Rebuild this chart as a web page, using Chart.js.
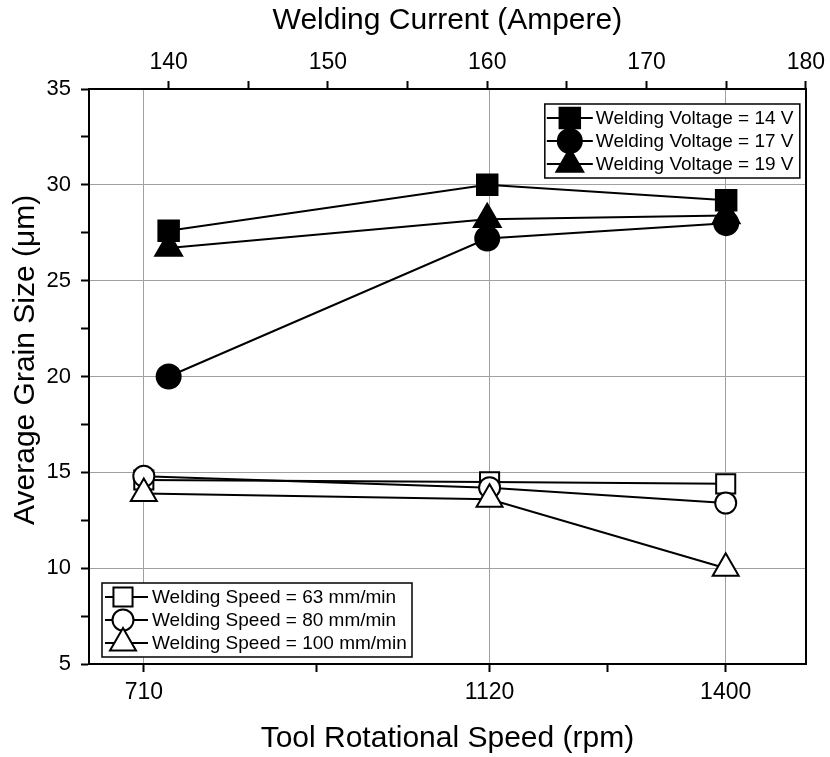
<!DOCTYPE html>
<html>
<head>
<meta charset="utf-8">
<script src="https://cdn.jsdelivr.net/npm/chart.js@4.4.0/dist/chart.umd.min.js"></script>
<style>
  html, body { margin: 0; padding: 0; background: #fff; }
  #wrap { width: 830px; height: 757px; }
</style>
</head>
<body>
<div id="wrap"><canvas id="grain-chart" width="830" height="757"></canvas></div>
<script>
// Bottom axis: tool rotational speed (rpm)
const rpm = [710, 1120, 1400];
const rpmTicks = [710, 915, 1120, 1260, 1400];
// Top axis: welding current (A)
const current = [140, 160, 175];

// Open markers, plotted against rpm
const speedLabels = ['Welding Speed = 63 mm/min', 'Welding Speed = 80 mm/min', 'Welding Speed = 100 mm/min'];
const speed63 = [14.6, 14.5, 14.4];
const speed80 = [14.8, 14.2, 13.4];
const speed100 = [13.9, 13.6, 10.0];

// Filled markers, plotted against welding current
const voltageLabels = ['Welding Voltage = 14 V', 'Welding Voltage = 17 V', 'Welding Voltage = 19 V'];
const volt14 = [27.6, 30.0, 29.2];
const volt17 = [20.0, 27.2, 28.0];
const volt19 = [26.7, 28.2, 28.4];

const FONT = "'Liberation Sans', Arial, sans-serif";
const GRID = '#a0a0a0';

const toPoints = (xs, ys) => xs.map((x, i) => ({ x: x, y: ys[i] }));

function series(label, xs, ys, style, radius, filled, axis, order) {
    return {
        label: label,
        data: toPoints(xs, ys),
        xAxisID: axis,
        yAxisID: 'y',
        order: order,
        borderColor: '#000',
        borderWidth: 2,
        backgroundColor: filled ? '#000' : '#fff',
        pointStyle: style,
        pointRadius: radius,
        pointHoverRadius: radius,
        pointBorderWidth: 2,
        pointBorderColor: '#000',
        pointBackgroundColor: filled ? '#000' : '#fff',
        tension: 0,
        fill: false,
        legendGroup: filled ? 'voltage' : 'speed'
    };
}

const datasets = [
    series(speedLabels[0], rpm, speed63, 'rect', 13.5, false, 'x', 6),
    series(speedLabels[1], rpm, speed80, 'circle', 10.5, false, 'x', 5),
    series(speedLabels[2], rpm, speed100, 'triangle', 15, false, 'x', 4),
    series(voltageLabels[0], current, volt14, 'rect', 14.5, true, 'x2', 3),
    series(voltageLabels[1], current, volt17, 'circle', 12, true, 'x2', 2),
    series(voltageLabels[2], current, volt19, 'triangle', 15.5, true, 'x2', 1)
];

// two boxed legends inside the plot area
const boxLegends = {
    id: 'boxLegends',
    afterDatasetsDraw(chart) {
        const ctx = chart.ctx;
        const area = chart.chartArea;
        const groups = [
            { name: 'voltage', left: area.right - 261, top: area.top + 15, width: 255, height: 74, lineFrom: 2, lineTo: 48, mark: 25, text: 51 },
            { name: 'speed', left: area.left + 13, top: area.bottom - 81, width: 310, height: 74, lineFrom: 3, lineTo: 46, mark: 21, text: 50 }
        ];
        groups.forEach(g => {
            ctx.save();
            ctx.fillStyle = '#fff';
            ctx.strokeStyle = '#000';
            ctx.lineWidth = 1.5;
            ctx.fillRect(g.left, g.top, g.width, g.height);
            ctx.strokeRect(g.left, g.top, g.width, g.height);
            const items = chart.data.datasets.filter(d => d.legendGroup === g.name);
            items.forEach((d, i) => {
                const y = g.top + 14 + i * 23;
                ctx.strokeStyle = '#000';
                ctx.lineWidth = 2;
                ctx.beginPath();
                ctx.moveTo(g.left + g.lineFrom, y);
                ctx.lineTo(g.left + g.lineTo, y);
                ctx.stroke();
                ctx.fillStyle = d.pointBackgroundColor;
                Chart.helpers.drawPoint(ctx, {
                    pointStyle: d.pointStyle,
                    radius: d.pointRadius,
                    rotation: 0,
                    borderWidth: d.pointBorderWidth
                }, g.left + g.mark, y);
                ctx.fillStyle = '#000';
                ctx.font = '19px ' + FONT;
                ctx.textAlign = 'left';
                ctx.textBaseline = 'middle';
                ctx.fillText(d.label, g.left + g.text, y + 1);
            });
            ctx.restore();
        });
    }
};

new Chart(document.getElementById('grain-chart'), {
    type: 'line',
    data: { datasets: datasets },
    options: {
        responsive: false,
        animation: false,
        devicePixelRatio: 1,
        layout: { padding: { right: 22 } },
        plugins: {
            legend: { display: false },
            tooltip: { enabled: false }
        },
        scales: {
            x: {
                type: 'linear',
                position: 'bottom',
                min: 645,
                max: 1495,
                afterBuildTicks: s => { s.ticks = rpmTicks.map(v => ({ value: v })); },
                afterFit: s => { s.height = 93; },
                ticks: {
                    autoSkip: false,
                    maxRotation: 0,
                    padding: 7,
                    color: '#000',
                    font: { family: FONT, size: 23 },
                    callback: v => rpm.includes(v) ? String(v) : ''
                },
                grid: {
                    color: c => (c.tick && rpm.includes(c.tick.value)) ? GRID : 'rgba(0,0,0,0)',
                    lineWidth: 1,
                    tickColor: '#000',
                    tickWidth: 2,
                    tickLength: 8
                },
                border: { color: '#000', width: 2 },
                title: {
                    display: true,
                    text: 'Tool Rotational Speed (rpm)',
                    color: '#000',
                    font: { family: FONT, size: 30 },
                    padding: { top: 0, bottom: 0 }
                }
            },
            x2: {
                type: 'linear',
                position: 'top',
                min: 135,
                max: 180,
                afterFit: s => { s.height = 89; },
                ticks: {
                    stepSize: 5,
                    autoSkip: false,
                    maxRotation: 0,
                    padding: 5,
                    color: '#000',
                    font: { family: FONT, size: 23 },
                    callback: v => (v % 10 === 0) ? String(v) : ''
                },
                grid: {
                    drawOnChartArea: false,
                    tickColor: c => (c.tick && c.tick.value > 135) ? '#000' : 'rgba(0,0,0,0)',
                    tickWidth: 2,
                    tickLength: 8
                },
                border: { color: '#000', width: 2 },
                title: {
                    display: true,
                    text: 'Welding Current (Ampere)',
                    color: '#000',
                    font: { family: FONT, size: 30 },
                    padding: { top: 3, bottom: 0 }
                }
            },
            y: {
                type: 'linear',
                position: 'left',
                min: 5,
                max: 35,
                afterFit: s => { s.width = 89; },
                ticks: {
                    stepSize: 2.5,
                    autoSkip: false,
                    padding: 10,
                    color: '#000',
                    font: { family: FONT, size: 22 },
                    callback: v => (v % 5 === 0) ? String(v) : ''
                },
                grid: {
                    color: c => (c.tick && c.tick.value % 5 === 0 && c.tick.value > 5 && c.tick.value < 35) ? GRID : 'rgba(0,0,0,0)',
                    lineWidth: 1,
                    tickColor: '#000',
                    tickWidth: 2,
                    tickLength: 8
                },
                border: { color: '#000', width: 2 },
                title: {
                    display: true,
                    // leading spaces nudge the label up, as in the source figure
                    text: '    Average Grain Size (\u03bcm)',
                    color: '#000',
                    font: { family: FONT, size: 30 },
                    padding: { top: 8, bottom: 0 }
                }
            },
            y2: {
                type: 'linear',
                position: 'right',
                min: 5,
                max: 35,
                afterFit: s => { s.width = 0; },
                ticks: { display: false },
                grid: { drawOnChartArea: false, drawTicks: false },
                border: { color: '#000', width: 2 }
            }
        }
    },
    plugins: [boxLegends]
});
</script>
</body>
</html>
